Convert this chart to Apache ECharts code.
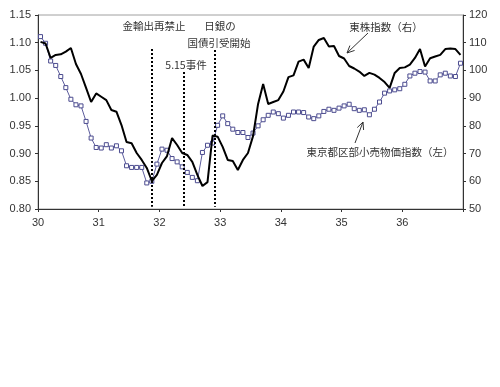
<!DOCTYPE html>
<html><head><meta charset="utf-8">
<script src="https://cdn.jsdelivr.net/npm/echarts@6/dist/echarts.min.js"></script>
<style>html,body{margin:0;padding:0;background:#fff}#c{width:500px;height:387px}</style>
</head><body><div id="c"></div>
<script>
// Months Jan 1930 (Showa 5 = "30") .. Dec 1936, monthly
const yearLabels = ['30','31','32','33','34','35','36'];
// 東京都区部小売物価指数 (left axis)
const retailIndex = [1.111,1.099,1.067,1.059,1.039,1.019,0.998,0.988,0.986,0.958,0.928,0.911,
  0.910,0.916,0.910,0.914,0.905,0.878,0.875,0.875,0.875,0.847,0.850,0.881,
  0.908,0.906,0.891,0.885,0.876,0.866,0.857,0.851,0.902,0.915,0.919,0.951,
  0.968,0.954,0.944,0.938,0.938,0.929,0.937,0.950,0.961,0.969,0.975,0.972,
  0.964,0.969,0.975,0.975,0.974,0.966,0.963,0.968,0.976,0.980,0.978,0.982,
  0.986,0.989,0.981,0.978,0.979,0.970,0.980,0.993,1.009,1.013,1.015,1.017,
  1.025,1.040,1.045,1.048,1.047,1.031,1.031,1.042,1.045,1.040,1.039,1.063];
// 東株指数 (right axis)
const stockIndex = [110.3,109.7,104.5,105.6,105.8,106.8,108.1,102.3,98.7,93.7,88.6,91.7,
  90.5,89.3,85.7,85.1,80.3,74.2,73.7,70.2,67.7,64.8,60.1,62.3,
  66.6,69.1,75.6,73.1,70.2,69.5,67.0,62.3,58.3,59.7,76.5,76.1,
  72.4,67.7,67.3,64.1,67.7,70.2,76.3,87.9,95.1,87.9,88.6,89.3,
  92.4,97.6,98.2,103.2,103.9,100.9,108.6,111.0,111.7,108.6,108.8,105.2,
  104.3,101.6,100.7,99.6,98.0,99.1,98.5,97.3,95.8,93.7,99.1,100.9,
  101.1,102.1,104.5,107.7,101.4,104.4,105.0,105.6,107.7,107.9,107.7,105.6];
// event markers (position in months from Jan 1930), with top of dotted line (left-axis units)
const eventPos = [22.5, 28.8, 34.9];
const eventTop = [1.0886, 1.047, 1.087];

const toXY = arr => arr.map((v, i) => [i + 0.5, v]);
const font = 'Liberation Sans, Arial, sans-serif';
const jp = '"Noto Sans CJK JP", sans-serif';

const chart = echarts.init(document.getElementById('c'), null, {renderer: 'canvas'});

function arrow(x1, y1, x2, y2) {
  const dx = x2 - x1, dy = y2 - y1, L = Math.hypot(dx, dy);
  const bx = -dx / L, by = -dy / L, a = 25 * Math.PI / 180, s = 8;
  const w1 = [x2 + s * (bx * Math.cos(a) - by * Math.sin(a)), y2 + s * (bx * Math.sin(a) + by * Math.cos(a))];
  const w2 = [x2 + s * (bx * Math.cos(a) + by * Math.sin(a)), y2 + s * (-bx * Math.sin(a) + by * Math.cos(a))];
  return [
    {type: 'line', shape: {x1, y1, x2, y2}, style: {stroke: '#333', lineWidth: 1}},
    {type: 'polyline', shape: {points: [w1, [x2, y2], w2]}, style: {stroke: '#333', lineWidth: 1, fill: null}}
  ];
}
function label(text, x, y) {
  return {type: 'text', x, y, style: {text, font: '10.5px ' + jp, fill: '#333', align: 'center', verticalAlign: 'middle'}};
}

chart.setOption({
  animation: false,
  grid: {left: 38, right: 37, top: 15, bottom: 178, show: true, borderColor: '#a0a0a0', borderWidth: 1, backgroundColor: 'transparent'},
  xAxis: {
    type: 'value', min: 0, max: 84, interval: 12,
    axisLine: {show: true, onZero: false, lineStyle: {color: '#333', width: 1}},
    axisTick: {show: true, length: 3, lineStyle: {color: '#333'}},
    splitLine: {show: false},
    axisLabel: {color: '#333', fontSize: 11, fontFamily: font, margin: 8,
      formatter: v => (v / 12 < yearLabels.length ? yearLabels[v / 12] : '')}
  },
  yAxis: [
    {type: 'value', min: 0.8, max: 1.15, interval: 0.05, position: 'left',
      axisLine: {show: true, lineStyle: {color: '#333'}},
      axisTick: {show: true, length: 3, lineStyle: {color: '#333'}},
      splitLine: {show: false},
      axisLabel: {color: '#333', fontSize: 11, fontFamily: font, margin: 7, formatter: v => v.toFixed(2)}},
    {type: 'value', min: 50, max: 120, interval: 10, position: 'right',
      axisLine: {show: true, lineStyle: {color: '#333'}},
      axisTick: {show: true, length: 3, lineStyle: {color: '#333'}},
      splitLine: {show: false},
      axisLabel: {color: '#333', fontSize: 11, fontFamily: font, margin: 6}}
  ],
  series: [
    {name: '東京都区部小売物価指数', type: 'line', yAxisIndex: 0, data: toXY(retailIndex),
      symbol: 'rect', symbolSize: 4, showAllSymbol: true,
      itemStyle: {color: '#fff', borderColor: '#4b4b8f', borderWidth: 1},
      lineStyle: {color: '#5c5c9c', width: 1}, z: 2,
      markLine: {silent: true, symbol: 'none', label: {show: false},
        lineStyle: {color: '#000', width: 2, type: 'dotted'},
        data: eventPos.map((p, k) => [{coord: [p, eventTop[k]]}, {coord: [p, 0.804]}])}},
    {name: '東株指数', type: 'line', yAxisIndex: 1, data: toXY(stockIndex),
      symbol: 'none', lineStyle: {color: '#000', width: 2}, z: 3}
  ],
  graphic: [
    label('金輸出再禁止', 154, 26),
    label('日銀の', 220, 26),
    label('国債引受開始', 219, 43),
    label('5.15事件', 186, 65),
    label('東株指数（右）', 386, 27),
    label('東京都区部小売物価指数（左）', 380, 152),
    ...arrow(368, 33, 347, 53),
    ...arrow(355, 143, 363, 122)
  ]
});
</script></body></html>
